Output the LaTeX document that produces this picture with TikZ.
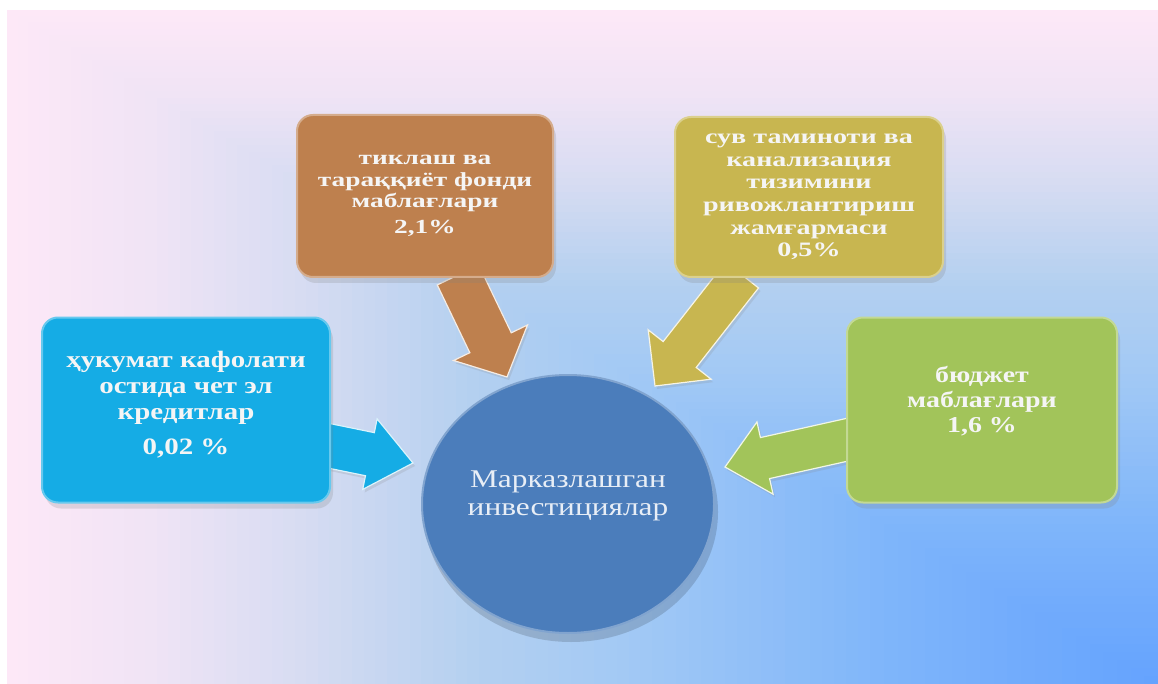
\documentclass[tikz,border=0pt]{standalone}
\usepackage{fontspec}
\setmainfont{Liberation Serif}
\newfontfamily\wideA[FakeStretch=1.23]{Liberation Serif}
\newfontfamily\wideB[FakeStretch=1.37]{Liberation Serif}
\usetikzlibrary{calc,shadows,shapes.geometric}
\definecolor{bgA}{RGB}{100,162,254}
\definecolor{bgB}{RGB}{128,182,250}
\definecolor{bgC}{RGB}{160,200,245}
\definecolor{bgD}{RGB}{180,208,240}
\definecolor{bgE}{RGB}{215,220,242}
\definecolor{bgF}{RGB}{240,228,245}
\definecolor{bgG}{RGB}{253,232,247}
\definecolor{cyanbox}{RGB}{21,172,229}
\definecolor{brownbox}{RGB}{190,128,78}
\definecolor{olivebox}{RGB}{200,182,80}
\definecolor{greenbox}{RGB}{162,196,90}
\definecolor{circfill}{RGB}{75,125,187}
\definecolor{boxtext}{RGB}{245,245,245}
\definecolor{circtext}{RGB}{232,238,246}
\newcommand{\bgband}[5]{%
  \foreach \j in {0,...,#5}{%
    \pgfmathsetmacro{\s}{#2-\j*(#2-#1)/(#5+1)}%
    \pgfmathtruncatemacro{\p}{(\s-#1)/(#2-#1)*100}%
    \fill[#4!\p!#3] ({1158-\s*1151},{684-\s*674}) rectangle (1158,684);
  }}
\newcommand{\blockarr}[6]{%
  \coordinate (hb) at ($(#3)!#6!(#2)$);
  \filldraw[#1] ($(#2)!#4!90:(#3)$) -- ($(hb)!#4!90:(#3)$) -- ($(hb)!#5!90:(#3)$) -- (#3)
     -- ($(hb)!#5!-90:(#3)$) -- ($(hb)!#4!-90:(#3)$) -- ($(#2)!#4!-90:(#3)$) -- cycle;}
\begin{document}
\begin{tikzpicture}[x=1pt,y=-1pt,
  boxnode/.style={rounded corners=16pt, fill=#1, draw=#1!65!white, line width=2pt,
    drop shadow={opacity=0.22, shadow xshift=3pt, shadow yshift=-6pt},
    text=boxtext, align=center, inner sep=0pt},
  arrowbody/.style={fill=#1, draw=white!85!#1, line width=1.2pt, line join=miter,
    drop shadow={opacity=0.18, shadow xshift=2pt, shadow yshift=-3pt}}]
\useasboundingbox (0,0) rectangle (1158,684);
\fill[white] (0,0) rectangle (1158,684);
% background (rectangular gradient from the lower right corner)
\bgband{0.88}{1}{bgF}{bgG}{12}
\bgband{0.75}{0.88}{bgE}{bgF}{12}
\bgband{0.6}{0.75}{bgD}{bgE}{14}
\bgband{0.45}{0.6}{bgC}{bgD}{14}
\bgband{0.25}{0.45}{bgB}{bgC}{18}
\bgband{0}{0.25}{bgA}{bgB}{20}
% connector end points
\coordinate (ta) at (325,445);  \coordinate (pa) at (413,463);
\coordinate (tb) at (458,275);  \coordinate (pb) at (507,377);
\coordinate (tc) at (742,275);  \coordinate (pc) at (655,386);
\coordinate (td) at (855,438);  \coordinate (pd) at (725,467);
% arrows
\blockarr{arrowbody=cyanbox}{ta}{pa}{22pt}{36pt}{44pt}
\blockarr{arrowbody=brownbox}{tb}{pb}{23pt}{41pt}{38pt}
\blockarr{arrowbody=olivebox}{tc}{pc}{21pt}{40pt}{40pt}
\blockarr{arrowbody=greenbox}{td}{pd}{21pt}{37pt}{41pt}
% boxes
\node[boxnode=cyanbox, minimum width=288pt, minimum height=185pt,
  font=\wideA\bfseries\fontsize{23.5}{26}\selectfont] (a) at (186,410)
  {ҳукумат кафолати\\остида чет эл\\кредитлар\\[9pt]0,02 \%\\[-12pt]\mbox{}};
\node[boxnode=brownbox, minimum width=256pt, minimum height=162pt,
  font=\wideB\bfseries\fontsize{20}{21.5}\selectfont] (b) at (425,196)
  {тиклаш ва\\тараққиёт фонди\\маблағлари\\[4pt]2,1\%};
\node[boxnode=olivebox, minimum width=268pt, minimum height=160pt,
  font=\wideB\bfseries\fontsize{20.5}{22.6}\selectfont] (c) at (809,197)
  {сув таминоти ва\\канализация\\тизимини\\ривожлантириш\\жамғармаси\\0,5\%};
\node[boxnode=greenbox, minimum width=270pt, minimum height=185pt,
  font=\wideA\bfseries\fontsize{22.7}{25}\selectfont] (d) at (982,410)
  {бюджет\\маблағлари\\1,6 \%\\[-4pt]\mbox{}};
% centre
\fill[black, opacity=0.15] (571,512) ellipse [x radius=147, y radius=130];
\node[ellipse, fill=circfill, draw=circfill!70!white, line width=2pt, minimum width=292pt,
  minimum height=258pt, inner sep=0pt, text=circtext, align=center,
  font=\wideA\fontsize{25.5}{27.5}\selectfont] (m) at (568,504)
  {Марказлашган\\инвестициялар\\[-6pt]\mbox{}};
\end{tikzpicture}
\end{document}
